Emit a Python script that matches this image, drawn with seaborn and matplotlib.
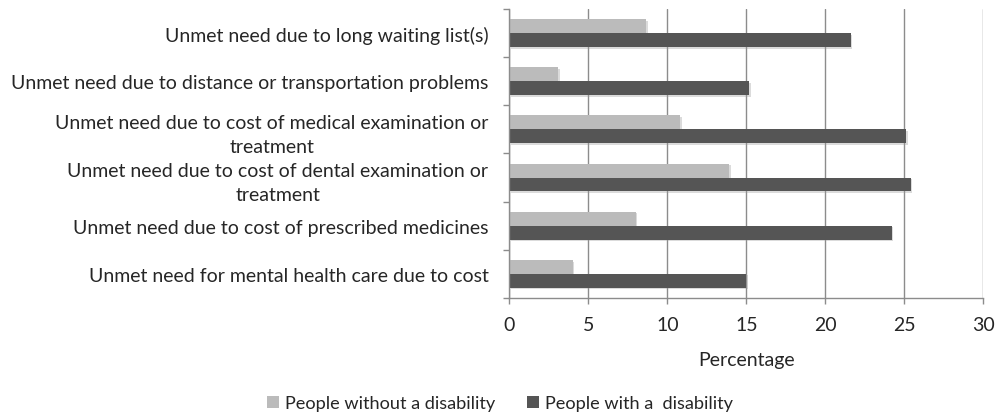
import matplotlib
matplotlib.use("Agg")
import matplotlib.pyplot as plt
import matplotlib.patheffects as pe
from matplotlib.patches import Patch
from matplotlib.ticker import FixedLocator
import seaborn as sns
import pandas as pd

categories = [
    "Unmet need due to long waiting list(s)",
    "Unmet need due to distance or transportation problems",
    "Unmet need due to cost of medical examination or\ntreatment",
    "Unmet need due to cost of dental examination or\ntreatment",
    "Unmet need due to cost of prescribed medicines",
    "Unmet need for mental health care due to cost",
]
series_names = ["People without a disability", "People with a  disability"]
without_disability = [8.65, 3.1, 10.8, 13.9, 8.0, 4.0]
with_disability = [21.6, 15.2, 25.1, 25.4, 24.2, 15.0]
x_ticks = [0, 5, 10, 15, 20, 25, 30]
colors = ["#BBBBBB", "#555555"]

df = pd.DataFrame({
    "category": categories * 2,
    "value": without_disability + with_disability,
    "group": [series_names[0]] * len(categories) + [series_names[1]] * len(categories),
})

sns.set_style("white")
plt.rcParams["font.family"] = ["Lato", "DejaVu Sans"]
FS = 14

fig = plt.figure(figsize=(10, 4.14), dpi=100)
ax = fig.add_axes([0.5093, 0.278, 0.474, 0.698])

sns.barplot(data=df, y="category", x="value", hue="group", orient="h",
            palette=colors, width=0.58, ax=ax, saturation=1, legend=False,
            linewidth=0)

for p in ax.patches:
    p.set_path_effects([pe.SimplePatchShadow(offset=(1.2, -1.2), shadow_rgbFace="#999999", alpha=0.35), pe.Normal()])

ax.set_xlim(0, 30)
ax.set_ylim(len(categories) - 0.5, -0.5)
ax.set_xticks(x_ticks)
ax.set_xticklabels([str(t) for t in x_ticks], fontsize=FS)
ax.xaxis.grid(True, color="#8c8c8c", linewidth=1)
ax.set_axisbelow(True)
ax.set_xlabel("Percentage", fontsize=FS, labelpad=13)
ax.set_ylabel("")
for lab in ax.get_yticklabels():
    lab.set_fontsize(FS)
    lab.set_multialignment("center")
    lab.set_linespacing(1.5)
ax.tick_params(axis="y", which="major", length=0, pad=15)
ax.yaxis.set_minor_locator(FixedLocator([i - 0.5 for i in range(len(categories) + 1)]))
ax.tick_params(axis="y", which="minor", length=4.3, color="#8c8c8c", width=1, left=True)
ax.tick_params(axis="x", which="major", length=4.3, color="#8c8c8c", width=1, bottom=True, pad=9)

for s in ["top", "right"]:
    ax.spines[s].set_visible(False)
for s in ["left", "bottom"]:
    ax.spines[s].set_color("#8c8c8c")
    ax.spines[s].set_linewidth(1)

handles = [Patch(facecolor=c, edgecolor="none") for c in colors]
fig.legend(handles, series_names, loc="lower center", bbox_to_anchor=(0.5, -0.035), ncol=2,
           frameon=False, fontsize=13.1, handlelength=0.65, handleheight=0.65,
           handletextpad=0.35, columnspacing=1.75)

fig.savefig("out.png", dpi=100)
